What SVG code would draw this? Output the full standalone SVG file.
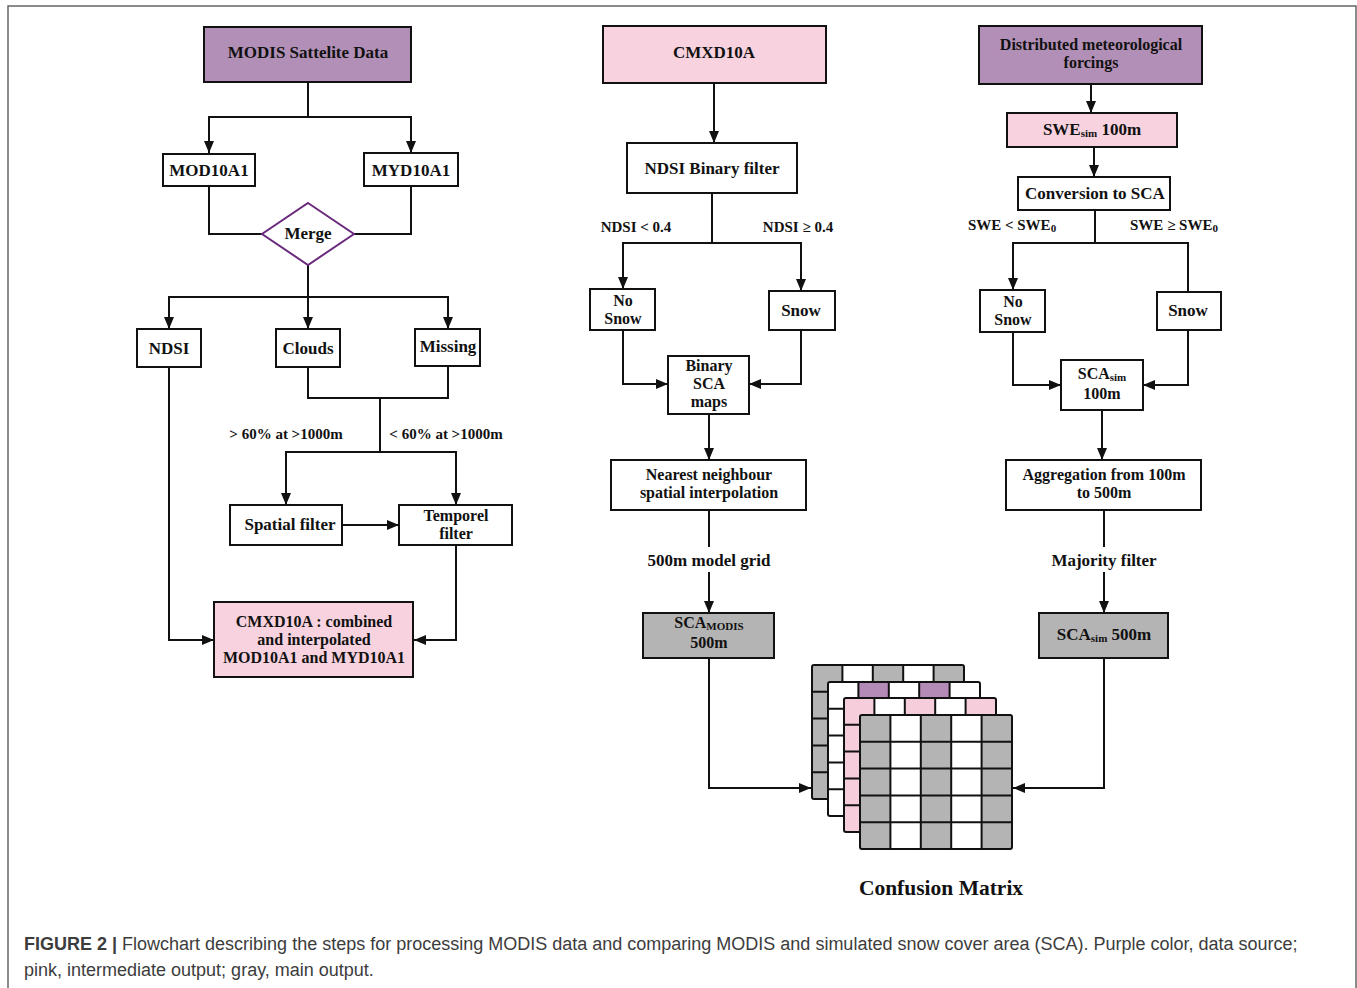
<svg xmlns="http://www.w3.org/2000/svg" xmlns:xlink="http://www.w3.org/1999/xlink" width="1357" height="988" viewBox="0 0 1357 988">
<style>
.box{stroke:#111;stroke-width:2;fill:#fff}
.pur{fill:#B18FB6}
.pnk{fill:#F8D3DF}
.gry{fill:#B4B4B4}
.t{font-family:"Liberation Serif",serif;font-weight:bold;font-size:17px;fill:#111;text-anchor:middle}
.m{font-size:16px}
.lb{font-family:"Liberation Serif",serif;font-weight:bold;font-size:15px;fill:#111;text-anchor:middle}
.sub{font-size:11px}
.c{fill:none;stroke:#111;stroke-width:2}
.cap{font-family:"Liberation Sans",Arial,sans-serif;font-size:18px;fill:#3c3c3c}
</style>
<defs>
<marker id="ah" markerWidth="12" markerHeight="10" refX="12" refY="5" orient="auto" markerUnits="userSpaceOnUse">
<path d="M0,0 L12,5 L0,10 z" fill="#111"/>
</marker>
<g id="gridlines" fill="none" stroke="#111" stroke-width="2">
<rect x="0" y="0" width="152" height="134" rx="2"/>
<path d="M30.4,0V134M60.8,0V134M91.2,0V134M121.6,0V134M0,26.8H152M0,53.6H152M0,80.4H152M0,107.2H152"/>
</g>
</defs>
<rect x="0" y="0" width="1357" height="988" fill="#fff"/>
<path d="M8,990 V6 H1356 V990" fill="none" stroke="#666" stroke-width="1.5"/>

<g id="connectors" class="c">
<path d="M308,82 V117"/>
<path d="M308,117 H209 V153" marker-end="url(#ah)"/>
<path d="M308,117 H411 V153" marker-end="url(#ah)"/>
<path d="M209,186 V234 H262"/>
<path d="M411,186 V234 H354"/>
<path d="M308,265 V297"/>
<path d="M308,297 H169 V329" marker-end="url(#ah)"/>
<path d="M308,297 V329" marker-end="url(#ah)"/>
<path d="M308,297 H448 V329" marker-end="url(#ah)"/>
<path d="M308,367 V398 H448 V366"/>
<path d="M380,398 V452"/>
<path d="M380,452 H286 V505" marker-end="url(#ah)"/>
<path d="M380,452 H456 V505" marker-end="url(#ah)"/>
<path d="M342,525 H399" marker-end="url(#ah)"/>
<path d="M456,545 V640 H414" marker-end="url(#ah)"/>
<path d="M169,367 V640 H214" marker-end="url(#ah)"/>

<path d="M714,83 V143" marker-end="url(#ah)"/>
<path d="M712,193 V243"/>
<path d="M712,243 H623 V289" marker-end="url(#ah)"/>
<path d="M712,243 H801 V291" marker-end="url(#ah)"/>
<path d="M623,330 V384 H668" marker-end="url(#ah)"/>
<path d="M801,330 V384 H749" marker-end="url(#ah)"/>
<path d="M709,414 V460" marker-end="url(#ah)"/>
<path d="M709,510 V547"/>
<path d="M709,572 V613" marker-end="url(#ah)"/>
<path d="M709,658 V788 H811" marker-end="url(#ah)"/>

<path d="M1091,84 V113" marker-end="url(#ah)"/>
<path d="M1094,147 V177" marker-end="url(#ah)"/>
<path d="M1095,210 V243"/>
<path d="M1095,243 H1013 V290" marker-end="url(#ah)"/>
<path d="M1095,243 H1188 V292"/>
<path d="M1013,332 V385 H1061" marker-end="url(#ah)"/>
<path d="M1188,330 V385 H1143" marker-end="url(#ah)"/>
<path d="M1102,410 V460" marker-end="url(#ah)"/>
<path d="M1104,510 V547"/>
<path d="M1104,572 V613" marker-end="url(#ah)"/>
<path d="M1104,658 V788 H1013" marker-end="url(#ah)"/>
</g>

<g id="edge-labels">
<text class="lb" x="286" y="439">&gt; 60% at &gt;1000m</text>
<text class="lb" x="446" y="439">&lt; 60% at  &gt;1000m</text>
<text class="lb" x="636" y="232">NDSI &lt; 0.4</text>
<text class="lb" x="798" y="232">NDSI ≥ 0.4</text>
<text class="lb" x="1012" y="230">SWE &lt; SWE<tspan class="sub" dy="2">0</tspan></text>
<text class="lb" x="1174" y="230">SWE ≥ SWE<tspan class="sub" dy="2">0</tspan></text>
<text class="t" x="709" y="566">500m model grid</text>
<text class="t" x="1104" y="566">Majority filter</text>
</g>

<g id="n-modis"><rect class="box pur" x="204" y="27" width="207" height="55"/><text class="t" x="308" y="58">MODIS Sattelite Data</text></g>
<g id="n-mod10a1"><rect class="box" x="163" y="154" width="92" height="32"/><text class="t" x="209" y="176">MOD10A1</text></g>
<g id="n-myd10a1"><rect class="box" x="364" y="153" width="94" height="33"/><text class="t" x="411" y="176">MYD10A1</text></g>
<g id="n-merge"><polygon points="308,203 354,234 308,265 262,234" fill="#fff" stroke="#6B2B7C" stroke-width="2"/><text class="t" x="308" y="239">Merge</text></g>
<g id="n-ndsi"><rect class="box" x="137" y="329" width="64" height="38"/><text class="t" x="169" y="354">NDSI</text></g>
<g id="n-clouds"><rect class="box" x="276" y="329" width="64" height="38"/><text class="t" x="308" y="354">Clouds</text></g>
<g id="n-missing"><rect class="box" x="415" y="329" width="65" height="37"/><text class="t" x="448" y="352">Missing</text></g>
<g id="n-spatial"><rect class="box" x="230" y="505" width="112" height="40"/><text class="t" x="290" y="530">Spatial filter</text></g>
<g id="n-temporel"><rect class="box" x="399" y="505" width="113" height="40"/><text class="t m" x="456" y="521">Temporel</text><text class="t m" x="456" y="539">filter</text></g>
<g id="n-cmxd-out"><rect class="box pnk" x="214" y="602" width="199" height="75"/><text class="t m" x="314" y="627">CMXD10A : combined</text><text class="t m" x="314" y="645">and interpolated</text><text class="t m" x="314" y="663">MOD10A1 and MYD10A1</text></g>

<g id="n-cmxd"><rect class="box pnk" x="603" y="26" width="223" height="57"/><text class="t" x="714" y="58">CMXD10A</text></g>
<g id="n-ndsibin"><rect class="box" x="627" y="143" width="170" height="50"/><text class="t" x="712" y="174">NDSI Binary filter</text></g>
<g id="n-nosnow1"><rect class="box" x="590" y="289" width="65" height="41"/><text class="t m" x="623" y="306">No</text><text class="t m" x="623" y="324">Snow</text></g>
<g id="n-snow1"><rect class="box" x="769" y="291" width="66" height="39"/><text class="t" x="801" y="316">Snow</text></g>
<g id="n-binary"><rect class="box" x="668" y="356" width="81" height="58"/><text class="t m" x="709" y="371">Binary</text><text class="t m" x="709" y="389">SCA</text><text class="t m" x="709" y="407">maps</text></g>
<g id="n-nearest"><rect class="box" x="611" y="460" width="195" height="50"/><text class="t m" x="709" y="480">Nearest neighbour</text><text class="t m" x="709" y="498">spatial interpolation</text></g>
<g id="n-scamodis"><rect class="box gry" x="643" y="613" width="131" height="45"/><text class="t m" x="709" y="628">SCA<tspan class="sub" dy="2">MODIS</tspan></text><text class="t m" x="709" y="648">500m</text></g>

<g id="n-forcings"><rect class="box pur" x="979" y="26" width="223" height="58"/><text class="t m" x="1091" y="50">Distributed meteorological</text><text class="t m" x="1091" y="68">forcings</text></g>
<g id="n-swesim"><rect class="box pnk" x="1007" y="113" width="170" height="34"/><text class="t" x="1092" y="135">SWE<tspan class="sub" dy="2">sim</tspan><tspan dy="-2"> 100m</tspan></text></g>
<g id="n-conv"><rect class="box" x="1018" y="177" width="152" height="33"/><text class="t" x="1095" y="199">Conversion to SCA</text></g>
<g id="n-nosnow2"><rect class="box" x="980" y="290" width="65" height="42"/><text class="t m" x="1013" y="307">No</text><text class="t m" x="1013" y="325">Snow</text></g>
<g id="n-snow2"><rect class="box" x="1157" y="292" width="64" height="38"/><text class="t" x="1188" y="316">Snow</text></g>
<g id="n-scasim100"><rect class="box" x="1061" y="360" width="82" height="50"/><text class="t m" x="1102" y="379">SCA<tspan class="sub" dy="2">sim</tspan></text><text class="t m" x="1102" y="399">100m</text></g>
<g id="n-aggr"><rect class="box" x="1006" y="460" width="195" height="50"/><text class="t m" x="1104" y="480">Aggregation from 100m</text><text class="t m" x="1104" y="498">to 500m</text></g>
<g id="n-scasim500"><rect class="box gry" x="1039" y="613" width="129" height="45"/><text class="t" x="1104" y="640">SCA<tspan class="sub" dy="2">sim</tspan><tspan dy="-2"> 500m</tspan></text></g>

<g id="n-matrix">
<g transform="translate(812,665)"><rect width="152" height="134" fill="#fff"/><rect class="gry" x="0" y="0" width="30.4" height="134"/><rect class="gry" x="60.8" y="0" width="30.4" height="134"/><rect class="gry" x="121.6" y="0" width="30.4" height="134"/><use xlink:href="#gridlines"/></g>
<g transform="translate(828,682)"><rect width="152" height="134" fill="#fff"/><rect x="30.4" y="0" width="30.4" height="134" fill="#B48BB6"/><rect x="91.2" y="0" width="30.4" height="134" fill="#B48BB6"/><use xlink:href="#gridlines"/></g>
<g transform="translate(844,698)"><rect width="152" height="134" fill="#fff"/><rect x="0" y="0" width="30.4" height="134" fill="#F6CDDB"/><rect x="60.8" y="0" width="30.4" height="134" fill="#F6CDDB"/><rect x="121.6" y="0" width="30.4" height="134" fill="#F6CDDB"/><use xlink:href="#gridlines"/></g>
<g transform="translate(860,715)"><rect width="152" height="134" fill="#fff"/><rect class="gry" x="0" y="0" width="30.4" height="134"/><rect class="gry" x="60.8" y="0" width="30.4" height="134"/><rect class="gry" x="121.6" y="0" width="30.4" height="134"/><use xlink:href="#gridlines"/></g>
<text class="t" x="941" y="895" style="font-size:21.5px">Confusion Matrix</text>
</g>

<g id="caption">
<text class="cap" x="24" y="950"><tspan font-weight="bold">FIGURE 2 |</tspan> Flowchart describing the steps for processing MODIS data and comparing MODIS and simulated snow cover area (SCA). Purple color, data source;</text>
<text class="cap" x="24" y="976">pink, intermediate output; gray, main output.</text>
</g>
</svg>
